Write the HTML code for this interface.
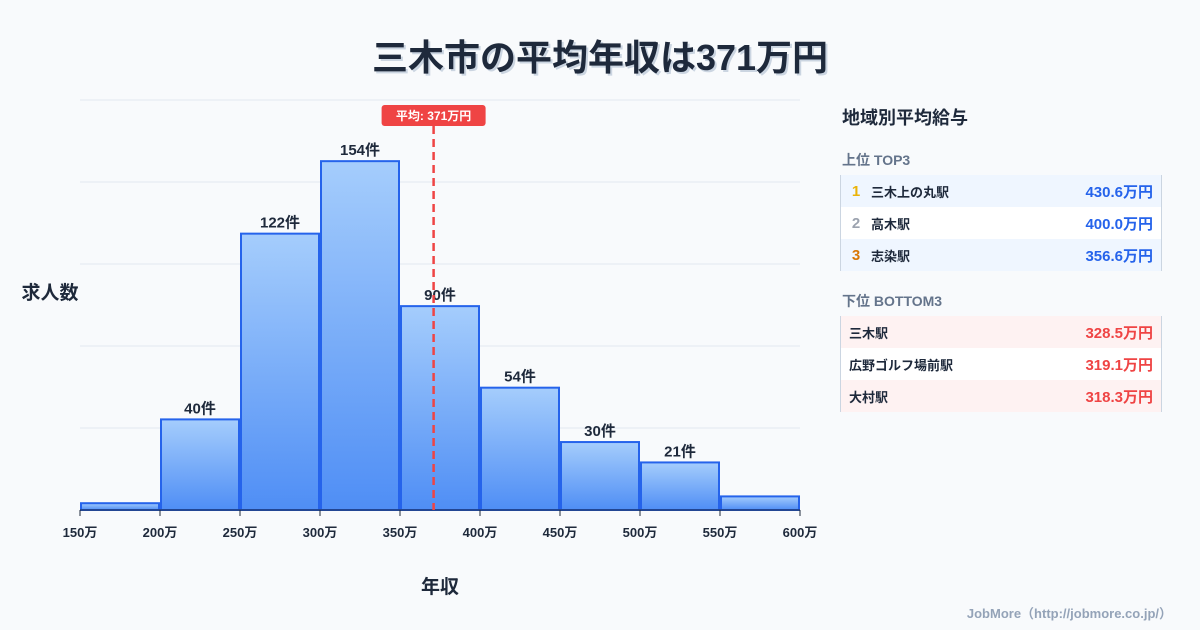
<!DOCTYPE html>
<html><head><meta charset="utf-8"><style>
body{margin:0;width:1200px;height:630px;background:#f8fafc;font-family:"Liberation Sans","Noto Sans CJK JP",sans-serif;position:relative;overflow:hidden;color:#1e293b}
.abs{position:absolute}
.title{left:0;width:1200px;top:29px;text-align:center;font-size:36px;font-weight:bold;color:#1e293b;text-shadow:2px 2px 0 #cbd5e1}
.tbl{left:840px;width:320px;border-left:1px solid #cbd5e1;border-right:1px solid #cbd5e1}
.row{height:32px;display:flex;align-items:center;font-size:13px;font-weight:bold;position:relative}
.row .v{position:absolute;right:8px;font-size:15px}
.rk{width:30px;text-align:center;font-size:15px}
</style></head><body>
<div class="abs title">三木市の平均年収は371万円</div>
<svg class="abs" style="left:0;top:0" width="830" height="630">
<defs><linearGradient id="g" x1="0" y1="0" x2="0" y2="1"><stop offset="0" stop-color="#a5cdfc"/><stop offset="1" stop-color="#4f8ef5"/></linearGradient></defs>
<g id="grid"></g><g id="bars"></g><g id="xt"></g><g id="avg"></g>
<text x="50" y="299" font-size="19" font-weight="bold" text-anchor="middle" fill="#1e293b">求人数</text>
<text x="440" y="593" font-size="19" font-weight="bold" text-anchor="middle" fill="#1e293b">年収</text>
</svg>
<div class="abs" style="left:842px;top:104px;font-size:18px;font-weight:bold">地域別平均給与</div>
<div class="abs" style="left:842px;top:150px;font-size:14px;font-weight:bold;color:#64748b">上位 TOP3</div>
<div class="abs tbl" style="top:175px">
<div class="row" style="background:#eff6ff"><span class="rk" style="color:#eab308">1</span>三木上の丸駅<span class="v" style="color:#2563eb">430.6万円</span></div>
<div class="row" style="background:#fff"><span class="rk" style="color:#9ca3af">2</span>高木駅<span class="v" style="color:#2563eb">400.0万円</span></div>
<div class="row" style="background:#eff6ff"><span class="rk" style="color:#d97706">3</span>志染駅<span class="v" style="color:#2563eb">356.6万円</span></div>
</div>
<div class="abs" style="left:842px;top:291px;font-size:14px;font-weight:bold;color:#64748b">下位 BOTTOM3</div>
<div class="abs tbl" style="top:316px">
<div class="row" style="background:#fef2f2;padding-left:8px">三木駅<span class="v" style="color:#ef4444">328.5万円</span></div>
<div class="row" style="background:#fff;padding-left:8px">広野ゴルフ場前駅<span class="v" style="color:#ef4444">319.1万円</span></div>
<div class="row" style="background:#fef2f2;padding-left:8px">大村駅<span class="v" style="color:#ef4444">318.3万円</span></div>
</div>
<div class="abs" style="right:28px;top:603px;font-size:13px;font-weight:bold;color:#94a3b8">JobMore（http://jobmore.co.jp/）</div>
<script>
const binStarts=[150,200,250,300,350,400,450,500,550];
const counts=[3,40,122,154,90,54,30,21,6];
const showLabel=[false,true,true,true,true,true,true,true,false];
const xTicks=[150,200,250,300,350,400,450,500,550,600];
const yGrid=[0,36,72,108,144,180];
const avgValue=371;
const NS="http://www.w3.org/2000/svg";
const X=v=>80+(v-150)*1.6, Y=c=>510-c*410/181;
function mk(t,a,p,txt){const e=document.createElementNS(NS,t);for(const k in a)e.setAttribute(k,a[k]);if(txt!=null)e.textContent=txt;document.getElementById(p).appendChild(e);return e;}
yGrid.forEach((g,i)=>{const gy=510-i*82;const l=mk('line',{x1:80,x2:800,y1:gy,y2:gy,stroke:'#e2e8f0','stroke-width':1},'grid');

});
binStarts.forEach((b,i)=>{const x0=X(b)+1,x1=X(b+50)-1,y=Y(counts[i]);
const r=mk('rect',{x:x0,y:y,width:x1-x0,height:510-y,fill:'url(#g)',stroke:'#2563eb','stroke-width':2},'bars');


if(showLabel[i]){const t=mk('text',{x:(x0+x1)/2,y:y-6,'font-size':15,'font-weight':'bold','text-anchor':'middle',fill:'#1e293b'},'bars',counts[i]+'件');

}});
mk('line',{x1:80,x2:800,y1:510,y2:510,stroke:'#1e293b','stroke-width':1},'xt');
xTicks.forEach(v=>{mk('line',{x1:X(v),x2:X(v),y1:510,y2:516,stroke:'#1e293b'},'xt');
const t=mk('text',{x:X(v),y:537,'font-size':13,'font-weight':'bold','text-anchor':'middle',fill:'#1e293b'},'xt',v+'万');

});
const ax=X(avgValue);
const al=mk('line',{x1:ax,x2:ax,y1:126,y2:510,stroke:'#ef4444','stroke-width':2.5,'stroke-dasharray':'8,5'},'avg');


const ab=mk('rect',{x:ax-52,y:105,width:104,height:21,rx:3,fill:'#ef4444'},'avg');


mk('text',{x:ax,y:120,'font-size':12,'font-weight':'bold','text-anchor':'middle',fill:'#fff'},'avg','平均: '+avgValue+'万円');
</script>
</body></html>
